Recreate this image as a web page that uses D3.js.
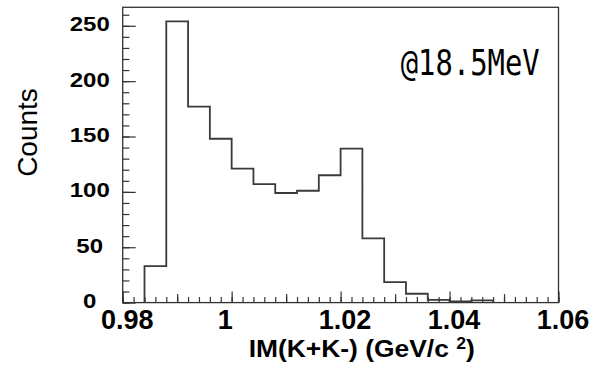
<!DOCTYPE html>
<html>
<head>
<meta charset="utf-8">
<script src="https://cdn.jsdelivr.net/npm/d3@7"></script>
<style>
  body { margin: 0; background: #fff; }
  svg { display: block; }
</style>
</head>
<body>
<svg id="chart" width="592" height="370"></svg>
<script>
// histogram bins (GeV/c^2) and counts
const binEdges = [0.984, 0.988, 0.992, 0.996, 1.000, 1.004, 1.008, 1.012, 1.016,
                  1.020, 1.024, 1.028, 1.032, 1.036, 1.040, 1.044, 1.048];
const counts = [33, 254, 177, 148, 121, 107, 99, 101, 115, 139, 58, 18.5, 8, 2.5, 1, 2];

const xTickValues = [0.98, 1.00, 1.02, 1.04, 1.06];
const xTickLabels = ["0.98", "1", "1.02", "1.04", "1.06"];
const yTickValues = [0, 50, 100, 150, 200, 250];
const xDomain = [0.98, 1.06];
const yDomain = [0, 266.7];

const frame = {left: 122.7, right: 558.5, top: 7.3, bottom: 302.6};

const svg = d3.select("#chart");

const x = d3.scaleLinear().domain(xDomain).range([frame.left, frame.right]);
const y = d3.scaleLinear().domain(yDomain).range([frame.bottom, frame.top]);

// frame
svg.append("rect")
  .attr("x", frame.left)
  .attr("y", frame.top)
  .attr("width", frame.right - frame.left)
  .attr("height", frame.bottom - frame.top)
  .attr("fill", "none")
  .attr("stroke", "#333")
  .attr("stroke-width", 1.3);

// minor / medium ticks on x
const xMinor = d3.range(0.98, 1.0601, 0.002);
const xMedium = d3.range(0.99, 1.06, 0.02);

svg.append("g")
  .attr("transform", `translate(0,${frame.bottom})`)
  .call(d3.axisBottom(x).tickValues(xMinor).tickSize(-5.5).tickSizeOuter(0).tickFormat(""))
  .call(g => g.select(".domain").remove());

svg.append("g")
  .attr("transform", `translate(0,${frame.bottom})`)
  .call(d3.axisBottom(x).tickValues(xMedium).tickSize(-8.5).tickSizeOuter(0).tickFormat(""))
  .call(g => g.select(".domain").remove());

const xAxis = svg.append("g")
  .attr("transform", `translate(0,${frame.bottom})`)
  .call(d3.axisBottom(x).tickValues(xTickValues).tickSize(-11).tickSizeOuter(0)
    .tickFormat((d, i) => xTickLabels[i]));
xAxis.select(".domain").remove();
xAxis.selectAll("text")
  .attr("y", 26)
  .attr("dy", null)
  .attr("x", function() { return this.textContent.length < 2 ? -7 : 4; }) // ROOT puts the lone "1" a bit left
  .attr("fill", "#000")
  .attr("font-family", "'Liberation Sans', Arial, sans-serif")
  .attr("font-weight", "bold")
  .attr("font-size", 27);

// y ticks
svg.append("g")
  .attr("transform", `translate(${frame.left},0)`)
  .call(d3.axisLeft(y).tickValues(d3.range(0, 261, 10)).tickSize(-6.7).tickSizeOuter(0).tickFormat(""))
  .call(g => g.select(".domain").remove());

const yAxis = svg.append("g")
  .attr("transform", `translate(${frame.left},0)`)
  .call(d3.axisLeft(y).tickValues(yTickValues).tickSize(-13).tickSizeOuter(0).tickFormat(d3.format("d")));
yAxis.select(".domain").remove();
yAxis.selectAll("text")
  .attr("text-anchor", "middle")
  .attr("x", -33 / 1.2)
  .attr("y", 5)
  .attr("dy", null)
  .attr("transform", "scale(1.2,1)")
  .attr("fill", "#000")
  .attr("font-family", "'Liberation Sans', Arial, sans-serif")
  .attr("font-weight", "bold")
  .attr("font-size", 20);

svg.selectAll(".tick line").attr("stroke", "#333").attr("stroke-width", 1.2);

// histogram outline
const pts = [[binEdges[0], 0]];
counts.forEach((c, i) => pts.push([binEdges[i], c]));
pts.push([binEdges[binEdges.length - 1], 0]);

const line = d3.line()
  .curve(d3.curveStepAfter)
  .x(d => x(d[0]))
  .y(d => y(d[1]));

svg.append("path")
  .attr("d", line(pts))
  .attr("fill", "none")
  .attr("stroke", "#3a3a3a")
  .attr("stroke-width", 1.8);

// axis titles
const title = svg.append("text")
  .attr("transform", "translate(361.7,356.7) scale(1.1,1)")
  .attr("text-anchor", "middle")
  .attr("font-family", "'Liberation Sans', Arial, sans-serif")
  .attr("font-weight", "bold")
  .attr("font-size", 24)
  .attr("fill", "#000");
title.append("tspan").text("IM(K+K-) (GeV/c ");
title.append("tspan").attr("font-size", 16).attr("dy", -8).text("2");
title.append("tspan").attr("dy", 8).text(")");

svg.append("text")
  .attr("transform", "translate(36.5,132.5) rotate(-90)")
  .attr("text-anchor", "middle")
  .attr("font-family", "'Liberation Sans', Arial, sans-serif")
  .attr("font-size", 28)
  .attr("fill", "#000")
  .text("Counts");

// energy label
svg.append("text")
  .attr("x", 400.7)
  .attr("y", 75)
  .attr("font-family", "'DejaVu Sans Mono', monospace")
  .attr("font-size", 35)
  .attr("textLength", 139)
  .attr("lengthAdjust", "spacingAndGlyphs")
  .attr("fill", "#000")
  .text("@18.5MeV");
</script>
</body>
</html>
